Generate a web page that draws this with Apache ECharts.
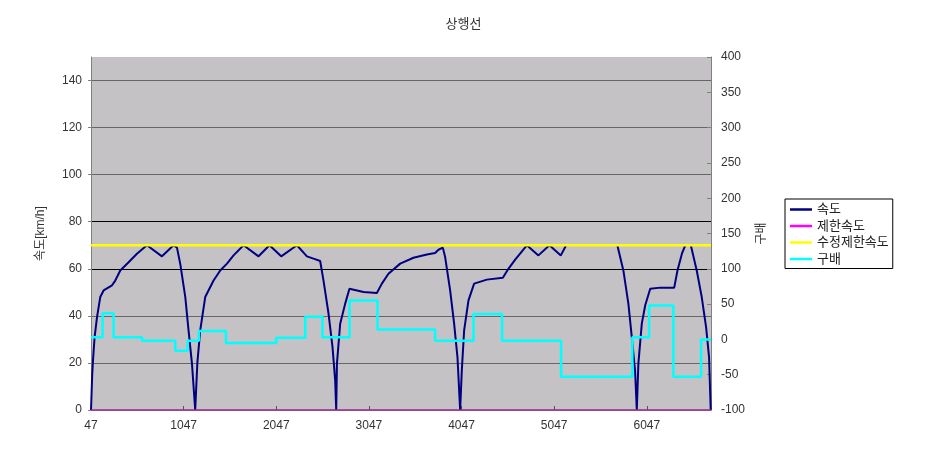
<!DOCTYPE html>
<html>
<head>
<meta charset="utf-8">
<script src="https://cdn.jsdelivr.net/npm/echarts@6/dist/echarts.min.js"></script>
<style>html,body{margin:0;padding:0;background:#fff}#c{width:927px;height:449px}</style>
</head>
<body>
<div id="c"></div>
<script>
// ---- data ----
const titleText = '상행선';
const seriesNames = ['속도', '제한속도', '수정제한속도', '구배'];
const xTickLabels = [47, 1047, 2047, 3047, 4047, 5047, 6047];
const xRange = [47, 6740];

const speedDist = [47,60,70,86,112,147,183,274,309,363,453,543,651,813,938,975,1011,1065,1100,1137,1172,
  1195,1226,1280,1370,1442,1515,1586,1694,1856,1974,2100,2270,2378,2449,2521,2557,2611,2654,2683,2694,
  2702,2737,2791,2837,2989,3133,3187,3258,3385,3528,3673,3762,3798,3845,3870,3924,3967,4003,4032,
  4050,4075,4122,4183,4320,4493,4553,4626,4752,4877,4996,5119,5176,
  5450,
  5729,5794,5848,5885,5920,5939,
  5956,5993,6030,6084,6192,6343,6378,6426,6462,
  6490,
  6522,6586,6640,6687,6719,6737];
const speedKmh = [0,15,22,31,39.5,48,50.8,53,55,59.3,62.8,66.4,70,65.3,70,69,62,48,33.8,19.7,0,
  20,33.8,48,55,59.3,62.2,65.7,70,65.3,70,65.3,70,65.3,64.3,63.3,55,41,26.8,12.6,0,
  19.7,36.7,45.2,51.5,50.1,49.7,53.7,57.9,62.2,64.7,66.1,66.7,68.1,69,65,50.8,36.7,22.5,0,
  16.9,33.8,46.6,53.7,55.4,56.2,60,63.9,70,65.7,70,65.7,70,
  null,
  70,59.3,45.2,31,16.9,0,
  19.7,36.7,44.5,51.5,52,52,59.3,66.4,70,
  null,
  70,59.3,48,35.2,22.5,0];

const limitSpeed = 0;
const revisedLimitSpeed = 70;

const gradeStart = [47,172,291,597,957,1089,1212,1504,2047,2360,2546,2838,3140,3762,4176,4485,5122,5891,6072,6334,6633];
const gradeValue = [3,37,3,-2,-16,-2,12,-5,2.5,32,3,55,14,-2,36,-2,-53,3,48,-53,0];
const gradeEnd = 6740;

// ---- build ----
const FONT = "'Liberation Sans', 'Noto Sans CJK KR', sans-serif";
const speedData = speedDist.map((d, i) => [d, speedKmh[i]]);
const gradeData = gradeStart.map((d, i) => [d, gradeValue[i]]);
gradeData.push([gradeEnd, gradeValue[gradeValue.length - 1]]);

const chart = echarts.init(document.getElementById('c'), null, {renderer: 'canvas'});
const option = {
  backgroundColor: '#ffffff',
  animation: false,
  textStyle: {fontFamily: FONT},
  title: {
    text: titleText, left: 'center', top: 13,
    textStyle: {fontSize: 13, fontWeight: 'normal', color: '#333', fontFamily: FONT}
  },
  grid: {left: 91, right: 216, top: 57, bottom: 39, show: true, backgroundColor: '#c4c2c5', borderWidth: 0},
  legend: {
    orient: 'vertical', left: 785, top: 199,
    padding: [4, 4, 3, 5], itemGap: 3.5, itemWidth: 22, itemHeight: 2.5,
    icon: 'rect',
    borderColor: '#000', borderWidth: 1,
    textStyle: {fontSize: 13, color: '#222', fontFamily: FONT},
    data: [
      {name: seriesNames[0]},
      {name: seriesNames[1], itemStyle: {color: '#ff00ff'}},
      {name: seriesNames[2]},
      {name: seriesNames[3]}
    ]
  },
  xAxis: {
    type: 'value', min: xRange[0], max: xRange[1],
    axisLine: {onZero: false, lineStyle: {color: '#808080'}},
    axisTick: {inside: true, length: 4, customValues: xTickLabels, lineStyle: {color: '#555'}},
    axisLabel: {customValues: xTickLabels, formatter: v => String(v), margin: 10, fontSize: 12, color: '#333', fontFamily: FONT},
    splitLine: {show: false}
  },
  yAxis: [
    {
      type: 'value', min: 0, max: 150, interval: 20,
      name: '속도[km/h]', nameLocation: 'middle', nameGap: 44, nameRotate: 90,
      nameTextStyle: {fontSize: 12, color: '#333', fontFamily: FONT},
      axisLine: {show: true, onZero: false, lineStyle: {color: '#808080'}},
      axisTick: {show: true, length: 3, lineStyle: {color: '#808080'}},
      axisLabel: {showMaxLabel: false, margin: 9, fontSize: 12, color: '#333', fontFamily: FONT},
      splitLine: {show: true, lineStyle: {width: 1, color: ['#666', '#666', '#666', '#000', '#000', '#666', '#666', '#666', 'rgba(0,0,0,0)']}}
    },
    {
      type: 'value', position: 'right', min: -100, max: 400, interval: 50,
      name: '구배', nameLocation: 'middle', nameGap: 44, nameRotate: 90,
      nameTextStyle: {fontSize: 12, color: '#333', fontFamily: FONT},
      axisLine: {show: true, onZero: false, lineStyle: {color: '#808080'}},
      axisTick: {show: true, inside: true, length: 4, lineStyle: {color: '#808080'}},
      axisLabel: {margin: 10, fontSize: 12, color: '#333', fontFamily: FONT},
      splitLine: {show: false}
    }
  ],
  series: [
    {
      name: seriesNames[0], type: 'line', yAxisIndex: 0, data: speedData,
      symbol: 'none', connectNulls: false,
      itemStyle: {color: '#000080'}, lineStyle: {color: '#000080', width: 2}
    },
    {
      name: seriesNames[1], type: 'line', yAxisIndex: 0,
      data: [[xRange[0], limitSpeed], [xRange[1], limitSpeed]],
      symbol: 'none', itemStyle: {color: '#ff00ff'}, lineStyle: {color: '#a0209a', width: 1.5}
    },
    {
      name: seriesNames[2], type: 'line', yAxisIndex: 0,
      data: [[xRange[0], revisedLimitSpeed], [xRange[1], revisedLimitSpeed]],
      symbol: 'none', itemStyle: {color: '#ffff00'}, lineStyle: {color: '#ffff00', width: 2.5}
    },
    {
      name: seriesNames[3], type: 'line', yAxisIndex: 1, data: gradeData, step: 'end',
      symbol: 'none', itemStyle: {color: '#00ffff'}, lineStyle: {color: '#00ffff', width: 2.5}
    }
  ]
};
chart.setOption(option);
</script>
</body>
</html>
